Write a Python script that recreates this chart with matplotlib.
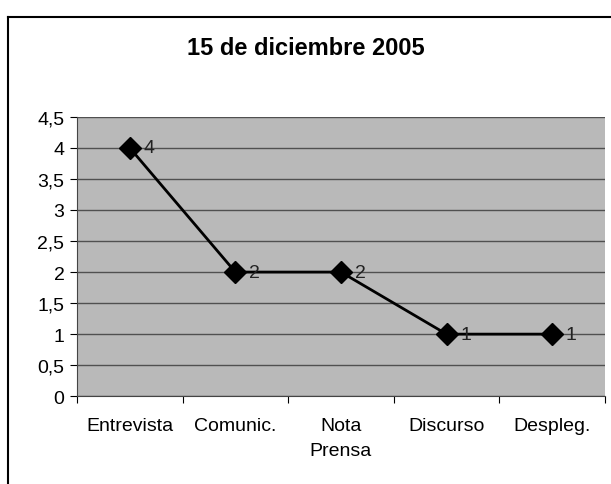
import matplotlib.pyplot as plt
from matplotlib.lines import Line2D

categories = ["Entrevista", "Comunic.", "Nota\nPrensa", "Discurso", "Despleg."]
values = [4, 2, 2, 1, 1]
title = "15 de diciembre 2005"

plt.rcParams['font.family'] = ['Liberation Sans', 'DejaVu Sans']

fig = plt.figure(figsize=(6.11, 4.85), dpi=100)
ax = fig.add_axes([0.126, 0.181, 0.864, 0.576])

ax.set_facecolor("#b9b9b9")
x = [i + 0.5 for i in range(len(values))]
ax.plot(x, values, color="black", lw=2, marker="D", markersize=11, zorder=3)
for xi, v in zip(x, values):
    ax.annotate(str(v), (xi, v), xytext=(10, 0), textcoords="offset points",
                va="center", ha="left", fontsize=14, color="#222222", zorder=4)

ax.set_xlim(0, len(values))
ax.set_ylim(0, 4.5)
ax.set_yticks([i * 0.5 for i in range(10)])
ax.set_yticklabels([f"{i * 0.5:g}".replace(".", ",") for i in range(10)], fontsize=14)
ax.set_xticks(range(len(values) + 1))
ax.set_xticklabels([])
ax.set_xticks(x, minor=True)
ax.set_xticklabels(categories, minor=True, fontsize=14, linespacing=1.6)
ax.tick_params(axis="x", which="minor", length=0, pad=15)
ax.tick_params(axis="x", which="major", length=5, direction="out")
ax.tick_params(axis="y", length=5, direction="out", pad=4)
ax.yaxis.grid(True, color="#505050", lw=1)
ax.set_axisbelow(True)
for s in ["top", "right"]:
    ax.spines[s].set_visible(False)
ax.spines["left"].set_color("#444444")
ax.spines["bottom"].set_color("#444444")

fig.text(0.5, 0.9, title, ha="center", va="center", fontsize=17, fontweight="bold")

# outer chart frame
fig.add_artist(Line2D([8 / 611, 8 / 611], [0, 1 - 18 / 485], color="black", lw=1.5))
fig.add_artist(Line2D([8 / 611, 1], [1 - 18 / 485, 1 - 18 / 485], color="black", lw=1.5))

plt.savefig("out.png", dpi=100)
